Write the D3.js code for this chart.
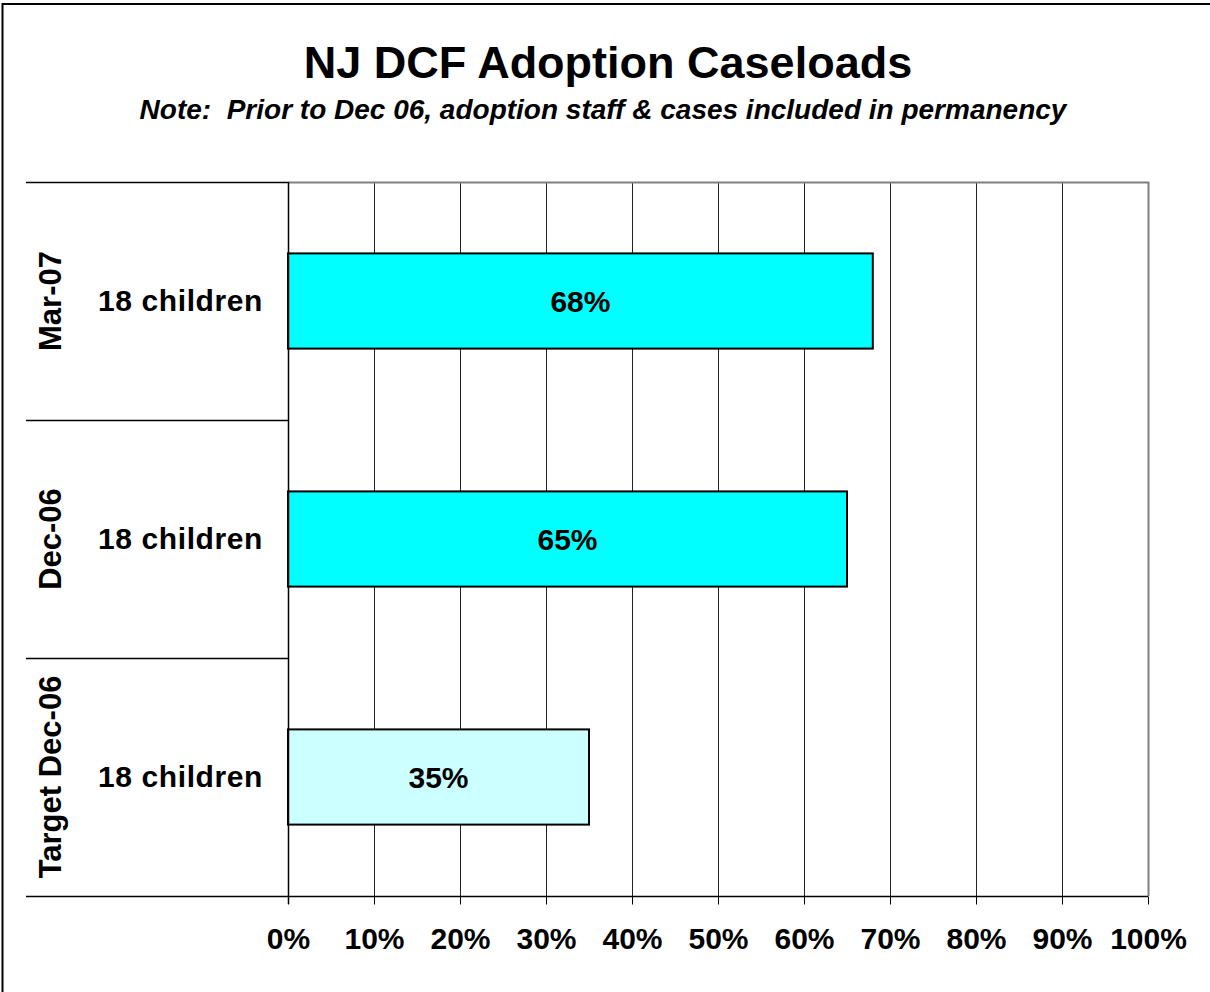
<!DOCTYPE html>
<html>
<head>
<meta charset="utf-8">
<title>NJ DCF Adoption Caseloads</title>
<script src="https://cdnjs.cloudflare.com/ajax/libs/d3/7.8.5/d3.min.js"></script>
<style>
    body { margin: 0; background: #fff; }
    text { font-family: "Liberation Sans", Arial, sans-serif; font-weight: bold; fill: #000; }
</style>
</head>
<body>
<div id="graph_area"></div>
<script>
//chart data, top bar first
var periods = ['Mar-07', 'Dec-06', 'Target Dec-06'];
var caseloads = ['18 children', '18 children', '18 children'];
var percents = [68, 65, 35];
var barColors = ['#00FFFF', '#00FFFF', '#CCFFFF'];
var tickValues = [0, 10, 20, 30, 40, 50, 60, 70, 80, 90, 100];

var titleText = 'NJ DCF Adoption Caseloads';
var noteText = 'Note:  Prior to Dec 06, adoption staff & cases included in permanency';

function draw_chart() {
    var w = 1210,
        h = 992,
        plotLeft = 288,
        plotRight = 1148,
        plotTop = 182,
        plotBottom = 896,
        labelLeft = 26;

    var svg = d3.select('#graph_area').append('svg')
        .attr('width', w)
        .attr('height', h);

    //outer frame, only top and left edges are inside the picture
    svg.append('rect')
        .attr('x', 2.5)
        .attr('y', 4)
        .attr('width', w + 20)
        .attr('height', h + 20)
        .attr('fill', 'none')
        .attr('stroke', '#000')
        .attr('stroke-width', 2);

    //title + note
    svg.append('text')
        .attr('x', 608)
        .attr('y', 78)
        .attr('text-anchor', 'middle')
        .style('font-size', '45px')
        .text(titleText);

    svg.append('text')
        .attr('x', 603)
        .attr('y', 119)
        .attr('text-anchor', 'middle')
        .style('font-size', '28px')
        .style('font-style', 'italic')
        .style('white-space', 'pre')
        .text(noteText);

    // X scale
    var x = d3.scaleLinear()
        .domain([0, 100])
        .range([plotLeft, plotRight]);

    // Y scale
    var y = d3.scaleBand()
        .domain(periods)
        .range([plotTop, plotBottom])
        .paddingInner(0.6)
        .paddingOuter(0.3);

    //vertical gridlines
    svg.append('g')
        .selectAll('line')
        .data(tickValues.slice(1, -1))
        .enter().append('line')
            .attr('x1', function(d) { return x(d) + 0.5; })
            .attr('x2', function(d) { return x(d) + 0.5; })
            .attr('y1', plotTop)
            .attr('y2', plotBottom)
            .attr('stroke', '#222')
            .attr('stroke-width', 1);

    //plot area border (grey top & right)
    svg.append('path')
        .attr('d', 'M' + plotLeft + ',' + (plotTop + 0.5) + 'H' + (plotRight + 0.5) + 'V' + plotBottom)
        .attr('fill', 'none')
        .attr('stroke', '#808080')
        .attr('stroke-width', 2);

    //bars
    svg.append('g')
        .selectAll('rect')
        .data(percents)
        .enter().append('rect')
            .attr('x', x(0))
            .attr('y', function(d, i) { return y(periods[i]); })
            .attr('width', function(d) { return x(d) - x(0); })
            .attr('height', y.bandwidth())
            .attr('fill', function(d, i) { return barColors[i]; })
            .attr('stroke', '#000')
            .attr('stroke-width', 2);

    //value labels inside bars
    svg.append('g')
        .selectAll('text')
        .data(percents)
        .enter().append('text')
            .attr('x', function(d) { return (x(0) + x(d)) / 2; })
            .attr('y', function(d, i) { return y(periods[i]) + y.bandwidth() / 2 + 11; })
            .attr('text-anchor', 'middle')
            .style('font-size', '30px')
            .text(function(d) { return d + '%'; });

    //bottom axis
    var xAxis = d3.axisBottom(x)
        .tickValues(tickValues)
        .tickSize(8)
        .tickPadding(23)
        .tickFormat(function(d) { return d + '%'; });

    var gx = svg.append('g')
        .attr('transform', 'translate(0,' + (plotBottom + 0.5) + ')')
        .call(xAxis);
    gx.select('.domain').remove();
    gx.selectAll('.tick line').attr('stroke', '#000');
    gx.selectAll('.tick text')
        .style('font-size', '30px')
        .style('font-family', '"Liberation Sans", Arial, sans-serif')
        .attr('fill', '#000');

    //axis lines
    svg.append('line')
        .attr('x1', labelLeft).attr('x2', plotRight)
        .attr('y1', plotBottom + 0.5).attr('y2', plotBottom + 0.5)
        .attr('stroke', '#000').attr('stroke-width', 1.5);
    svg.append('line')
        .attr('x1', plotLeft + 0.5).attr('x2', plotLeft + 0.5)
        .attr('y1', plotTop).attr('y2', plotBottom + 8)
        .attr('stroke', '#000').attr('stroke-width', 1.5);

    //category separators on the left
    var edges = periods.map(function(p) { return y(p) - y.step() * y.paddingOuter(); });
    svg.append('g')
        .selectAll('line')
        .data(edges)
        .enter().append('line')
            .attr('x1', labelLeft)
            .attr('x2', plotLeft)
            .attr('y1', function(d) { return Math.round(d) + 0.5; })
            .attr('y2', function(d) { return Math.round(d) + 0.5; })
            .attr('stroke', '#000')
            .attr('stroke-width', 1.5);

    //inner labels (caseload)
    svg.append('g')
        .selectAll('text')
        .data(caseloads)
        .enter().append('text')
            .attr('x', plotLeft - 25)
            .attr('y', function(d, i) { return y(periods[i]) + y.bandwidth() / 2 + 10; })
            .attr('text-anchor', 'end')
            .style('font-size', '30px')
            .style('letter-spacing', '0.6px')
            .text(function(d) { return d; });

    //outer labels (period), rotated
    svg.append('g')
        .selectAll('text')
        .data(periods)
        .enter().append('text')
            .attr('transform', function(d) {
                return 'translate(61,' + (y(d) + y.bandwidth() / 2) + ') rotate(-90)';
            })
            .attr('text-anchor', 'middle')
            .style('font-size', '31px')
            .text(function(d) { return d; });
}

window.onload = draw_chart;
</script>
</body>
</html>
